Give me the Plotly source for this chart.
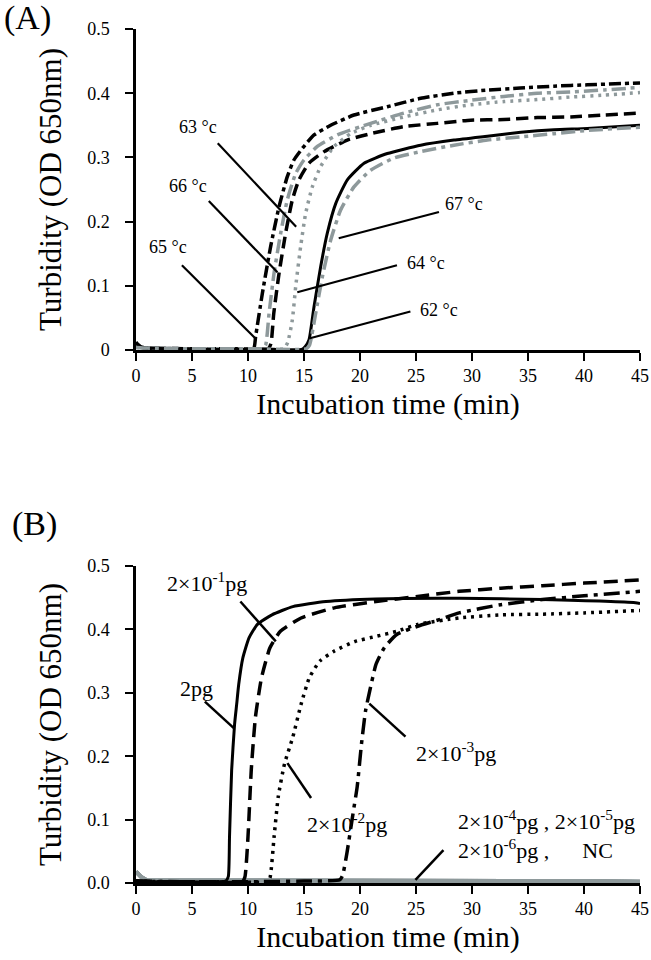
import plotly.graph_objects as go

# ---------------- Panel A data (temperature) ----------------
a_names = ["65 °c", "66 °c", "63 °c", "64 °c", "62 °c", "67 °c"]
a_t = {
    "65": [0, 0.2, 0.5, 1, 3, 6, 9, 10.5, 10.68, 11.28, 12.02, 12.77, 13.51, 14.1, 14.85, 15.9, 17.38, 19.46, 22.44, 25.42, 28.4, 31.4, 34.3, 37.3, 40.3, 45],
    "66": [0, 1, 5, 9, 11.3, 11.58, 11.88, 12.32, 12.92, 13.51, 14.26, 15.0, 16.19, 17.98, 20.95, 23.93, 26.9, 29.88, 32.86, 35.83, 38.8, 41.8, 45],
    "63": [0, 1, 5, 9, 11.8, 12.05, 12.3, 12.77, 13.36, 13.96, 14.55, 15.45, 16.8, 18.87, 20.95, 23.93, 26.9, 29.88, 32.86, 35.83, 38.8, 41.8, 45],
    "64": [0, 1, 5, 10, 13.2, 13.55, 13.96, 14.26, 14.7, 15.15, 15.74, 16.49, 17.68, 19.17, 20.95, 23.93, 26.9, 29.88, 32.86, 35.83, 38.8, 41.8, 45],
    "62": [0, 0.2, 0.5, 1, 3, 6, 9, 12, 14.8, 15.1, 15.45, 15.89, 16.49, 17.08, 17.83, 18.87, 20.36, 22.44, 25.42, 28.39, 31.37, 34.35, 37.32, 40.3, 45],
    "67": [0, 1, 5, 10, 15.2, 15.5, 16.04, 16.64, 17.38, 18.27, 19.46, 20.95, 23.04, 25.42, 28.39, 31.37, 34.35, 37.32, 40.3, 45],
}
a_v = {
    "65": [0.012, 0.008, 0.004, 0.003, 0.002, 0.001, 0.001, 0.002, 0.021, 0.088, 0.161, 0.223, 0.27, 0.296, 0.314, 0.335, 0.350, 0.366, 0.379, 0.392, 0.400, 0.405, 0.408, 0.411, 0.413, 0.416],
    "66": [0.005, 0.003, 0.002, 0.002, 0.002, 0.008, 0.057, 0.119, 0.182, 0.234, 0.275, 0.296, 0.317, 0.335, 0.353, 0.369, 0.382, 0.389, 0.395, 0.400, 0.402, 0.405, 0.409],
    "63": [0.005, 0.003, 0.002, 0.002, 0.002, 0.01, 0.057, 0.119, 0.182, 0.234, 0.265, 0.291, 0.309, 0.327, 0.337, 0.348, 0.353, 0.358, 0.359, 0.362, 0.363, 0.366, 0.369],
    "64": [0.004, 0.003, 0.002, 0.002, 0.002, 0.012, 0.047, 0.099, 0.161, 0.213, 0.254, 0.286, 0.317, 0.337, 0.350, 0.363, 0.374, 0.382, 0.387, 0.390, 0.394, 0.397, 0.401],
    "62": [0.012, 0.008, 0.004, 0.003, 0.002, 0.001, 0.001, 0.001, 0.001, 0.005, 0.016, 0.067, 0.130, 0.182, 0.228, 0.265, 0.291, 0.306, 0.319, 0.327, 0.333, 0.339, 0.343, 0.345, 0.350],
    "67": [0.004, 0.003, 0.002, 0.002, 0.002, 0.008, 0.057, 0.114, 0.171, 0.218, 0.254, 0.280, 0.299, 0.309, 0.319, 0.327, 0.332, 0.337, 0.342, 0.347],
}
a_keys = ["65", "66", "63", "64", "62", "67"]

# Panel A labels and leader lines (data coordinates)
a_lbl_text = ["63 °c", "66 °c", "65 °c", "67 °c", "64 °c", "62 °c"]
a_lbl_x = [5.5, 4.6, 2.85, 29.3, 25.9, 27.05]
a_lbl_y = [0.348, 0.255, 0.16, 0.228, 0.135, 0.062]
a_lead_x0 = [7.3, 6.5, 4.1, 27.05, 23.3, 24.5]
a_lead_y0 = [0.322, 0.232, 0.132, 0.215, 0.132, 0.060]
a_lead_x1 = [14.3, 12.63, 10.6, 18.1, 14.4, 15.45]
a_lead_y1 = [0.192, 0.121, 0.019, 0.174, 0.090, 0.018]

# ---------------- Panel B data (template amount) ----------------
b_keys = ["2pg", "2e-1", "2e-2", "2e-3"]
b_t = {
    "2pg": [0, 0.3, 1, 4, 8.0, 8.24, 8.35, 8.54, 8.8, 8.99, 9.17, 9.54, 10.1, 10.84, 12.14, 14.0, 16.97, 21.4, 28.9, 36.3, 44.6, 45],
    "2e-1": [0, 2, 6, 9.5, 9.73, 10.0, 10.29, 10.66, 11.21, 11.96, 12.89, 14.74, 17.71, 21.43, 25.14, 28.85, 32.57, 36.28, 40.0, 45],
    "2e-2": [0, 3, 8, 11.7, 11.96, 12.33, 12.7, 13.26, 14.0, 14.74, 15.48, 16.41, 17.71, 19.57, 21.43, 23.28, 25.14, 28.85, 32.57, 36.28, 40.0, 45],
    "2e-3": [0, 4, 10, 15, 18.2, 18.45, 18.83, 19.38, 19.75, 20.13, 20.5, 20.87, 21.43, 22.17, 23.28, 25.14, 27.0, 28.85, 32.57, 36.28, 40.0, 45],
}
b_v = {
    "2pg": [0.004, 0.003, 0.002, 0.002, 0.003, 0.01, 0.073, 0.178, 0.25, 0.282, 0.313, 0.355, 0.387, 0.408, 0.423, 0.436, 0.444, 0.448, 0.449, 0.447, 0.442, 0.441],
    "2e-1": [0.003, 0.002, 0.002, 0.002, 0.01, 0.073, 0.178, 0.261, 0.324, 0.371, 0.397, 0.418, 0.434, 0.444, 0.452, 0.460, 0.465, 0.469, 0.473, 0.478],
    "2e-2": [0.003, 0.002, 0.002, 0.002, 0.008, 0.073, 0.136, 0.188, 0.230, 0.282, 0.324, 0.350, 0.366, 0.381, 0.389, 0.397, 0.408, 0.418, 0.423, 0.424, 0.426, 0.430],
    "2e-3": [0.003, 0.002, 0.002, 0.003, 0.005, 0.012, 0.047, 0.110, 0.152, 0.219, 0.272, 0.303, 0.345, 0.371, 0.392, 0.405, 0.415, 0.426, 0.439, 0.447, 0.453, 0.460],
}
b_neg_names = ["2×10⁻⁴pg", "2×10⁻⁵pg", "2×10⁻⁶pg", "NC"]
b_neg_t = [0, 0.2, 0.5, 1.0, 2, 5, 10, 15, 20, 25, 30, 35, 40, 45]
b_neg_v = [0.018, 0.014, 0.009, 0.004, 0.004, 0.003, 0.003, 0.003, 0.003, 0.003, 0.004, 0.003, 0.003, 0.002]

b_lbl_text = [
    "2×10<sup>-1</sup>pg",
    "2pg",
    "2×10<sup>-2</sup>pg",
    "2×10<sup>-3</sup>pg",
]
b_lbl_x = [6.33, 5.42, 18.8, 28.6]
b_lbl_y = [0.475, 0.307, 0.095, 0.207]
b_lead_x0 = [9.32, 6.15, 15.63, 24.06, 27.45]
b_lead_y0 = [0.444, 0.286, 0.134, 0.231, 0.052]
b_lead_x1 = [12.48, 8.76, 13.52, 20.83, 24.95]
b_lead_y1 = [0.381, 0.244, 0.189, 0.283, 0.005]
b_neg_label = ("2×10<sup>-4</sup>pg , 2×10<sup>-5</sup>pg<br>"
               "2×10<sup>-6</sup>pg ,\u00a0\u00a0\u00a0\u00a0\u00a0 NC")

x_ticks = [0, 5, 10, 15, 20, 25, 30, 35, 40, 45]

# ---------------- styles ----------------
FONT = "Liberation Serif, Times New Roman, serif"
GRAY = "#8e999b"
a_style = {
    "65": dict(color="black", width=3.5, dash="12px,4px,4px,4px"),
    "66": dict(color=GRAY, width=3.5, dash="14px,5px,4px,5px"),
    "63": dict(color="black", width=3.5, dash="12px,6px"),
    "64": dict(color=GRAY, width=3.5, dash="3px,5px"),
    "62": dict(color="black", width=3, dash="solid"),
    "67": dict(color=GRAY, width=3.5, dash="14px,5px,4px,5px"),
}
b_style = {
    "2pg": dict(color="black", width=3, dash="solid"),
    "2e-1": dict(color="black", width=3.5, dash="14px,7px"),
    "2e-2": dict(color="black", width=3.5, dash="3px,5px"),
    "2e-3": dict(color="black", width=3.5, dash="16px,6px,4px,6px"),
}
b_names = {"2pg": "2pg", "2e-1": "2×10⁻¹pg", "2e-2": "2×10⁻²pg", "2e-3": "2×10⁻³pg"}

fig = go.Figure()

for k, nm in zip(a_keys, a_names):
    fig.add_trace(go.Scatter(x=a_t[k], y=a_v[k], mode="lines", name=nm,
                             line=dict(shape="spline", smoothing=0.5, **a_style[k]),
                             xaxis="x", yaxis="y", showlegend=False))

for nm in b_neg_names:
    fig.add_trace(go.Scatter(x=b_neg_t, y=b_neg_v, mode="lines", name=nm,
                             line=dict(color=GRAY, width=4),
                             xaxis="x2", yaxis="y2", showlegend=False))
for k in b_keys:
    fig.add_trace(go.Scatter(x=b_t[k], y=b_v[k], mode="lines", name=b_names[k],
                             line=dict(shape="spline", smoothing=0.5, **b_style[k]),
                             xaxis="x2", yaxis="y2", showlegend=False))

shapes = []
for x0, y0, x1, y1 in zip(a_lead_x0, a_lead_y0, a_lead_x1, a_lead_y1):
    shapes.append(dict(type="line", xref="x", yref="y", x0=x0, y0=y0, x1=x1, y1=y1,
                       line=dict(color="black", width=2.2)))
for x0, y0, x1, y1 in zip(b_lead_x0, b_lead_y0, b_lead_x1, b_lead_y1):
    shapes.append(dict(type="line", xref="x2", yref="y2", x0=x0, y0=y0, x1=x1, y1=y1,
                       line=dict(color="black", width=2.5)))

PLOT_W = 651 - 136 - 11
annotations = []
for txt, x, y in zip(a_lbl_text, a_lbl_x, a_lbl_y):
    annotations.append(dict(text=txt, x=x, y=y, xref="x", yref="y", showarrow=False,
                            font=dict(family=FONT, size=18, color="black")))
for txt, x, y in zip(b_lbl_text, b_lbl_x, b_lbl_y):
    annotations.append(dict(text=txt, x=x, y=y, xref="x2", yref="y2", showarrow=False,
                            font=dict(family=FONT, size=22, color="black")))
annotations.append(dict(text=b_neg_label, x=28.6, y=0.076, xref="x2", yref="y2",
                        showarrow=False, xanchor="left", align="left",
                        font=dict(family=FONT, size=22, color="black")))
annotations.append(dict(text="(A)", x=(2 - 136) / PLOT_W, y=(883 - 18) / 854.0,
                        xref="paper", yref="paper",
                        xanchor="left", yanchor="middle", showarrow=False,
                        font=dict(family=FONT, size=34, color="black")))
annotations.append(dict(text="(B)", x=(10 - 136) / PLOT_W, y=(883 - 524) / 854.0,
                        xref="paper", yref="paper",
                        xanchor="left", yanchor="middle", showarrow=False,
                        font=dict(family=FONT, size=34, color="black")))

common_x = dict(range=[0, 45], tickvals=x_ticks, showline=True, linecolor="black",
                linewidth=2.5, ticks="outside", ticklen=8, tickwidth=2, tickcolor="black",
                showgrid=False, zeroline=False,
                tickfont=dict(family=FONT, size=18, color="black"),
                title=dict(text="Incubation time (min)", standoff=8,
                           font=dict(family=FONT, size=30, color="black")))
common_y = dict(range=[0, 0.5], dtick=0.1, tick0=0, showline=True, linecolor="black",
                linewidth=2.5, ticks="outside", ticklen=8, tickwidth=2, tickcolor="black",
                showgrid=False, zeroline=False, ticklabelstandoff=12,
                tickfont=dict(family=FONT, size=18, color="black"),
                title=dict(text="Turbidity (OD 650nm)", standoff=17,
                           font=dict(family=FONT, size=31, color="black")))

fig.update_layout(
    width=651, height=960,
    margin=dict(l=136, r=11, t=29, b=77, autoexpand=False),
    paper_bgcolor="white", plot_bgcolor="white",
    xaxis=dict(domain=[0, 1], anchor="y", **common_x),
    yaxis=dict(domain=[(883 - 350) / 854.0, 1], anchor="x", **common_y),
    xaxis2=dict(domain=[0, 1], anchor="y2", **common_x),
    yaxis2=dict(domain=[0, (883 - 566) / 854.0], anchor="x2", tickformat=".1f", **common_y),
    shapes=shapes,
    annotations=annotations,
    showlegend=False,
)

fig.write_html("out.html",
               config={"displayModeBar": False},
               post_script="document.body.style.margin='0';document.body.style.overflow='hidden';")
